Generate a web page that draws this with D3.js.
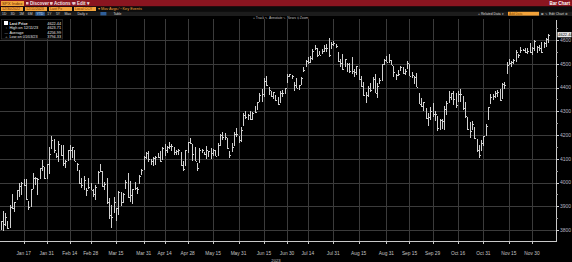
<!DOCTYPE html>
<html><head><meta charset="utf-8">
<script src="https://cdn.jsdelivr.net/npm/d3@7"></script>
<style>
body{margin:0;background:#000;overflow:hidden}
svg{display:block;font-family:"Liberation Sans",Arial,sans-serif}
</style>
</head><body>
<svg id="c" width="572" height="262"></svg>
<script>
// ---------- DATA ----------
const ticker = "SPX Index";
const startDate = "2022-12-30";
const endDate = "2023-12-11";
const holidays = ["2023-01-02","2023-01-16","2023-02-20","2023-04-07","2023-05-29","2023-06-19","2023-07-04","2023-09-04","2023-11-23"];

const open = [3829.06,
3853.29,3840.36,3839.74,3823.37,3910.82,3888.57,3932.35,3977.57,3960.60,3999.28,4002.25,3911.84,3909.04,3978.14,4001.74,3982.71,4036.08,4053.72,4049.27,4020.85,
4070.07,4158.68,4136.69,4119.57,4105.35,4153.47,4144.25,4068.92,4096.62,4126.70,4119.50,4114.75,4077.39,4052.35,4001.83,4018.60,3973.24,3992.36,3977.19,
3963.34,3938.68,3998.02,4055.15,4048.26,3987.55,3998.66,3912.77,3835.12,3894.01,3876.74,3878.93,3958.69,3917.47,3975.89,4002.04,3959.21,3939.21,3982.93,3974.13,3999.53,4046.74,4056.18,
4102.20,4128.03,4094.50,4081.15,4085.20,4110.29,4121.72,4100.04,4140.11,4137.17,4164.26,4139.33,4130.48,4132.14,4132.07,4126.43,4087.78,4075.29,4129.63,
4166.79,4164.10,4122.25,4082.61,4084.73,4136.98,4124.25,4143.74,4132.24,4138.54,4126.65,4127.95,4122.85,4157.68,4204.15,4190.78,4176.80,4132.96,4155.71,4156.16,4226.71,4190.74,
4183.03,4241.01,4282.99,4271.34,4285.47,4268.69,4304.88,4308.32,4352.61,4366.29,4365.33,4440.95,4396.11,4380.01,4355.40,4354.17,4344.84,4337.36,4367.48,4374.94,4422.44,
4450.48,4442.04,4422.62,4404.54,4394.23,4415.55,4467.69,4491.50,4514.61,4508.86,4521.78,4563.87,4554.38,4550.16,4543.39,4555.19,4558.96,4598.26,4565.75,4584.82,
4578.83,4550.93,4494.27,4513.96,4491.58,4498.03,4501.57,4487.16,4450.69,4458.13,4478.87,4433.79,4416.32,4344.88,4380.28,4415.33,4396.44,4455.16,4389.38,4426.03,4432.75,4500.34,4517.01,
4530.60,4510.06,4490.35,4434.55,4451.30,4480.98,4473.27,4462.65,4487.78,4497.98,4445.13,4445.41,4452.81,4374.36,4341.74,4310.62,4312.88,4282.63,4269.65,4328.18,
4284.52,4269.75,4233.83,4259.31,4234.79,4289.02,4339.75,4366.59,4380.94,4360.49,4342.37,4345.23,4357.35,4321.36,4273.85,4210.40,4235.79,4232.42,4175.99,4152.93,4139.39,4171.33,
4201.27,4268.26,4334.23,4364.27,4366.21,4384.37,4391.41,4364.15,4406.66,4458.97,4505.30,4497.08,4509.55,4511.70,4538.77,4553.04,4555.84,4554.86,4545.55,4571.84,4554.87,
4559.43,4564.37,4557.25,4586.23,4568.84,4576.20,4593.39];

const high = [3839.85,
3878.46,3873.16,3839.74,3906.19,3950.57,3919.83,3970.07,3997.76,4003.95,4015.39,4014.16,3922.94,3972.96,4039.31,4023.92,4019.55,4061.57,4094.21,4063.85,4077.16,
4148.95,4195.44,4182.36,4124.63,4176.54,4156.85,4156.23,4094.36,4138.90,4159.77,4148.11,4136.54,4081.51,4052.35,4017.37,4028.30,3978.25,4018.05,3997.50,
3971.73,3990.84,4048.29,4078.49,4050.00,4000.41,4017.81,3934.05,3905.05,3937.29,3894.26,3964.46,3958.91,3956.62,4009.08,4039.49,4007.66,3972.74,4003.83,3979.20,4030.59,4057.85,4110.75,
4127.66,4133.13,4099.69,4107.32,4109.50,4124.26,4134.37,4150.26,4163.19,4151.72,4169.48,4162.57,4148.57,4138.02,4142.41,4126.43,4089.67,4138.24,4170.06,
4186.92,4164.10,4148.30,4082.61,4147.02,4142.30,4130.35,4154.28,4132.80,4143.74,4141.25,4135.54,4164.67,4202.20,4212.91,4209.22,4185.68,4132.96,4165.74,4212.87,4231.10,4195.44,
4232.43,4290.67,4299.28,4288.33,4299.19,4298.01,4322.62,4340.13,4375.37,4391.82,4439.20,4448.47,4400.15,4386.22,4382.25,4366.55,4362.06,4384.42,4390.35,4398.39,4458.48,
4456.46,4454.06,4422.62,4440.39,4412.60,4443.64,4488.34,4517.38,4527.76,4532.85,4562.30,4578.43,4564.74,4555.00,4563.41,4580.62,4582.47,4607.07,4590.16,4594.22,
4584.62,4550.93,4519.49,4540.34,4519.84,4503.31,4502.44,4527.37,4476.23,4490.33,4478.87,4449.95,4421.17,4381.82,4407.55,4418.59,4443.18,4458.30,4418.46,4439.56,4500.14,4521.65,4532.26,
4541.25,4514.29,4490.35,4457.81,4473.53,4490.77,4487.11,4479.39,4511.99,4497.98,4466.36,4449.85,4461.03,4375.70,4357.40,4338.51,4313.01,4292.07,4317.27,4333.15,
4300.58,4281.15,4268.50,4267.13,4324.10,4341.73,4385.46,4378.64,4385.85,4377.10,4383.33,4393.57,4364.20,4339.54,4276.56,4255.84,4259.38,4232.42,4183.60,4156.70,4177.47,4195.55,
4245.64,4319.72,4373.62,4372.21,4386.26,4391.20,4393.40,4418.03,4421.76,4508.67,4521.17,4511.99,4520.12,4557.11,4542.14,4568.43,4560.31,4564.37,4568.14,4587.64,4569.89,
4599.39,4574.06,4578.56,4590.74,4590.92,4609.23,4623.71];

const low = [3800.34,
3794.33,3815.77,3802.42,3809.56,3890.42,3877.29,3928.54,3937.56,3947.67,3984.57,3926.59,3885.54,3897.86,3971.64,3989.79,3949.06,4013.29,4048.70,4015.55,4020.44,
4037.20,4141.88,4123.36,4103.98,4088.39,4111.67,4069.67,4060.79,4092.67,4095.01,4103.98,4089.50,4047.95,3995.19,3976.90,3969.19,3943.08,3973.55,3968.98,
3939.05,3928.16,3995.17,4044.61,3980.31,3969.76,3908.70,3846.32,3808.86,3873.63,3838.24,3864.11,3901.27,3916.89,3971.19,3936.17,3919.05,3909.16,3970.47,3951.53,3999.53,4032.10,4056.18,
4098.79,4086.87,4072.56,4069.84,4072.55,4102.61,4086.94,4099.40,4113.20,4123.18,4140.36,4134.49,4114.57,4113.86,4117.77,4071.38,4049.35,4075.29,4127.18,
4164.12,4089.72,4088.86,4048.28,4084.73,4123.81,4116.65,4098.92,4109.29,4099.12,4110.27,4109.86,4113.62,4153.50,4180.20,4179.68,4142.54,4103.98,4129.73,4156.16,4192.18,4166.15,
4171.64,4241.01,4266.82,4263.09,4263.96,4261.07,4291.70,4304.37,4337.66,4337.85,4362.60,4407.44,4367.19,4360.14,4351.82,4341.34,4328.08,4335.00,4360.22,4371.97,4422.44,
4442.29,4436.61,4385.05,4397.40,4389.92,4408.46,4463.23,4489.36,4499.56,4504.90,4514.59,4557.48,4527.56,4535.79,4541.29,4552.42,4547.58,4528.56,4564.01,4573.14,
4567.53,4505.75,4485.54,4474.55,4491.15,4464.39,4461.33,4457.92,4443.98,4453.44,4432.19,4403.55,4364.83,4335.31,4360.30,4382.77,4396.44,4375.55,4356.29,4414.98,4431.68,4493.59,4507.39,
4501.35,4496.01,4442.38,4430.46,4448.38,4467.89,4456.83,4453.52,4478.69,4447.21,4442.11,4416.61,4401.38,4329.17,4316.49,4302.70,4265.98,4238.63,4264.38,4274.86,
4260.21,4216.45,4220.48,4225.91,4219.55,4283.79,4339.64,4345.34,4325.43,4311.97,4342.37,4337.54,4303.84,4269.69,4223.03,4189.22,4219.43,4181.42,4127.90,4103.78,4132.94,4153.12,
4197.74,4268.26,4334.23,4347.53,4355.41,4359.76,4343.94,4353.34,4393.82,4458.97,4495.31,4487.83,4499.66,4510.36,4525.51,4545.05,4552.80,4545.28,4540.51,4547.15,4537.24,
4554.71,4546.72,4551.68,4546.50,4565.22,4574.06,4593.39];

const close = [3839.50,
3824.14,3852.97,3808.10,3895.08,3892.09,3919.25,3969.61,3983.17,3999.09,3990.97,3928.86,3898.85,3972.61,4019.81,4016.95,4016.22,4060.43,4070.56,4017.77,4076.60,
4119.21,4179.76,4136.48,4111.08,4164.00,4117.86,4081.50,4090.46,4137.29,4136.13,4147.60,4090.41,4079.09,3997.34,3991.05,4012.32,3970.04,3982.24,3970.15,
3951.39,3981.35,4045.64,4048.42,3986.37,3992.01,3918.32,3861.59,3855.76,3919.29,3891.93,3960.28,3916.64,3951.57,4002.87,3936.97,3948.72,3970.99,3977.53,3971.27,4027.81,4050.83,4109.31,
4124.51,4100.60,4090.38,4105.02,4109.11,4108.94,4091.95,4146.22,4137.64,4151.32,4154.87,4154.52,4129.79,4133.52,4137.04,4071.63,4055.99,4135.35,4169.48,
4167.87,4119.58,4090.75,4061.22,4136.25,4138.12,4119.17,4137.64,4130.62,4124.08,4136.28,4109.90,4158.77,4198.05,4191.98,4192.63,4145.58,4115.24,4151.28,4205.45,4205.52,4179.83,
4221.02,4282.37,4273.79,4283.85,4267.52,4293.93,4298.86,4338.93,4369.01,4372.59,4425.84,4409.59,4388.71,4365.69,4381.89,4348.33,4328.82,4378.41,4376.86,4396.44,4450.38,
4455.59,4446.82,4411.59,4398.95,4409.53,4439.26,4472.16,4510.04,4505.42,4522.79,4554.98,4565.72,4534.87,4536.34,4554.64,4567.46,4566.75,4537.41,4582.23,4588.96,
4576.73,4513.39,4501.89,4478.03,4518.44,4499.38,4467.71,4468.83,4464.05,4489.72,4437.86,4404.33,4370.36,4369.71,4399.77,4387.55,4436.01,4376.31,4405.71,4433.31,4497.63,4514.87,4507.66,
4515.77,4496.83,4465.48,4451.14,4457.49,4487.46,4461.90,4467.44,4505.10,4450.32,4453.53,4443.95,4402.20,4330.00,4320.06,4337.44,4273.53,4274.51,4299.70,4288.05,
4288.39,4229.45,4263.75,4258.19,4308.50,4335.66,4358.24,4376.95,4349.61,4327.78,4373.63,4373.20,4314.60,4278.00,4224.16,4217.04,4247.68,4186.77,4137.23,4117.37,4166.82,4193.80,
4237.86,4317.78,4358.34,4365.98,4378.38,4382.78,4347.35,4415.24,4411.55,4495.70,4502.88,4508.24,4514.02,4547.38,4538.19,4556.62,4559.34,4550.43,4554.89,4550.58,4567.80,
4594.63,4569.78,4567.18,4549.34,4585.59,4604.37,4622.44];

const xTickDates = ["2023-01-17","2023-01-31","2023-02-14","2023-02-28","2023-03-15","2023-03-31","2023-04-14","2023-04-28","2023-05-15","2023-05-31","2023-06-15","2023-06-30","2023-07-14","2023-07-31","2023-08-15","2023-08-31","2023-09-15","2023-09-29","2023-10-16","2023-10-31","2023-11-15","2023-11-30"];
const xTickLabels = ["Jan 17","Jan 31","Feb 14","Feb 28","Mar 15","Mar 31","Apr 14","Apr 28","May 15","May 31","Jun 15","Jun 30","Jul 14","Jul 31","Aug 15","Aug 31","Sep 15","Sep 29","Oct 16","Oct 31","Nov 15","Nov 30"];
const yearLabel = "2023";
const yTicks = [3800,3900,4000,4100,4200,4300,4400,4500,4600];
const periodButtons = ["1D","3D","1M","6M","YTD","1Y","5Y","Max"];

// ---------- BUILD ----------
const fmtISO = d3.timeFormat("%Y-%m-%d");
const parse = d3.timeParse("%Y-%m-%d");
const hol = new Set(holidays);
const dates = d3.timeDay.range(parse(startDate), d3.timeDay.offset(parse(endDate),1))
  .filter(d => d.getDay()!==0 && d.getDay()!==6 && !hol.has(fmtISO(d)));
const n = Math.min(dates.length, close.length);
const data = d3.range(n).map(i => ({i, date:dates[i], o:open[i], h:high[i], l:low[i], c:close[i]}));
const idxOf = new Map(dates.map((d,i)=>[fmtISO(d), i]));

const svg = d3.select("#c");
const W = 572, H = 262;
const plotL = 0, plotR = 556, plotT = 19, plotB = 241;

const x = d3.scaleLinear().domain([0, 240.4]).range([0.5, plotR]);
const y = d3.scaleLinear().domain([3800, 4600]).range([230, 40]);

svg.append("rect").attr("width",W).attr("height",H).attr("fill","#000");

// grid
const grid = svg.append("g").attr("shape-rendering","crispEdges");
grid.selectAll(".vg").data(xTickDates).join("line")
  .attr("x1",d=>Math.round(x(idxOf.get(d)))+0.5).attr("x2",d=>Math.round(x(idxOf.get(d)))+0.5)
  .attr("y1",plotT).attr("y2",plotB).attr("stroke","#3b3b3b");
grid.selectAll(".hg").data(yTicks).join("line")
  .attr("x1",plotL).attr("x2",plotR).attr("y1",d=>Math.round(y(d))+0.5).attr("y2",d=>Math.round(y(d))+0.5)
  .attr("stroke","#3b3b3b");

// OHLC bars
const bars = svg.append("g").attr("stroke","#d0d0d0").attr("stroke-width",1).attr("shape-rendering","crispEdges");
bars.selectAll("g").data(data).join("g").each(function(d){
  const g = d3.select(this);
  const cx = Math.round(x(d.i))+0.5;
  g.append("line").attr("x1",cx).attr("x2",cx).attr("y1",y(d.h)).attr("y2",y(d.l));
  g.append("line").attr("x1",cx-1).attr("x2",cx).attr("y1",Math.round(y(d.o))+0.5).attr("y2",Math.round(y(d.o))+0.5);
  g.append("line").attr("x1",cx).attr("x2",cx+1).attr("y1",Math.round(y(d.c))+0.5).attr("y2",Math.round(y(d.c))+0.5);
});

// bottom axis
const ax = svg.append("g").attr("shape-rendering","crispEdges");
ax.append("line").attr("x1",0).attr("x2",plotR).attr("y1",plotB+0.5).attr("y2",plotB+0.5).attr("stroke","#c8c8c8");
ax.selectAll(".xt").data(xTickDates).join("line")
  .attr("x1",d=>Math.round(x(idxOf.get(d)))+0.5).attr("x2",d=>Math.round(x(idxOf.get(d)))+0.5)
  .attr("y1",plotB+1).attr("y2",plotB+3).attr("stroke","#c8c8c8");
svg.append("g").selectAll("text").data(xTickDates).join("text")
  .attr("x",d=>x(idxOf.get(d))).attr("y",plotB+14)
  .attr("text-anchor","middle").attr("fill","#c4c4c4").attr("font-size",4.8)
  .text((d,k)=>xTickLabels[k]);
svg.append("text").attr("x",276).attr("y",261.5).attr("text-anchor","middle")
  .attr("fill","#c4c4c4").attr("font-size",4.2).text(yearLabel);

// right axis
const ra = svg.append("g").attr("shape-rendering","crispEdges");
ra.append("line").attr("x1",plotR+0.5).attr("x2",plotR+0.5).attr("y1",20).attr("y2",plotB+1).attr("stroke","#c8c8c8");
ra.selectAll(".yt").data(yTicks).join("line")
  .attr("x1",plotR).attr("x2",plotR+3).attr("y1",d=>Math.round(y(d))+0.5).attr("y2",d=>Math.round(y(d))+0.5).attr("stroke","#d0d0d0");
const minor = d3.range(3750, 4700, 100).filter(v=>y(v)>plotT && y(v)<plotB);
ra.selectAll(".ym").data(minor).join("line")
  .attr("x1",plotR).attr("x2",plotR+2).attr("y1",d=>Math.round(y(d))+0.5).attr("y2",d=>Math.round(y(d))+0.5).attr("stroke","#a0a0a0");
svg.append("g").selectAll("text").data(yTicks).join("text")
  .attr("x",plotR+4).attr("y",d=>y(d)+1.8).attr("fill","#b8b8c4").attr("font-size",5).text(d=>d);

// last price label
const last = data[n-1];
const fmt2 = d3.format(".2f");
const ly = y(last.c);
svg.append("rect").attr("x",plotR+1.5).attr("y",ly-2.6).attr("width",14).attr("height",5.2).attr("fill","#e8e8e8");
svg.append("text").attr("x",plotR+2.2).attr("y",ly+1.6).attr("fill","#000").attr("font-size",4).text(fmt2(last.c));

// ---------- LEGEND ----------
const hiD = data.reduce((a,b)=>b.h>a.h?b:a);
const loD = data.reduce((a,b)=>b.l<a.l?b:a);
const avg = d3.mean(data, d=>d.c);
const fmtD = d3.timeFormat("%m/%d/%y");
const lg = svg.append("g");
lg.append("rect").attr("x",1.5).attr("y",19.5).attr("width",61).attr("height",19.5).attr("fill","#000").attr("stroke","#3a3a3a").attr("stroke-width",0.6);
lg.append("rect").attr("x",4).attr("y",21).attr("width",4).attr("height",4).attr("fill","#fff");
const legRows = [
  {t:"Last Price", v:fmt2(last.c), y:24.5, b:true},
  {t:"High on "+fmtD(hiD.date), v:fmt2(hiD.h), y:29},
  {t:"Average", v:fmt2(avg), y:33.5},
  {t:"Low on "+fmtD(loD.date), v:fmt2(loD.l), y:38}
];
lg.selectAll(".lt").data(legRows).join("text").attr("x",9.5).attr("y",d=>d.y)
  .attr("fill","#e6e6e6").attr("font-size",3.8).attr("font-weight",d=>d.b?"bold":"normal").text(d=>d.t);
lg.selectAll(".lv").data(legRows).join("text").attr("x",61).attr("y",d=>d.y).attr("text-anchor","end")
  .attr("fill","#e6e6e6").attr("font-size",3.8).text(d=>d.v);
[null,"⊤","—","⊥"].forEach((s,k)=>{ if(s) lg.append("text").attr("x",4.5).attr("y",legRows[k].y).attr("fill","#bbb").attr("font-size",3.4).text(s); });

// ---------- HEADER ----------
const hd = svg.append("g");
hd.append("rect").attr("x",0).attr("y",0).attr("width",W).attr("height",6.5).attr("fill","#8a1520");
hd.append("rect").attr("x",1).attr("y",1).attr("width",23).attr("height",5).attr("fill","#f3a33a");
hd.append("text").attr("x",2).attr("y",5).attr("font-size",4.3).attr("fill","#6b2b00").text(ticker);
[["Discover",30],["Actions",54],["Edit",77]].forEach(([t,xx])=>{
  hd.append("rect").attr("x",xx-4).attr("y",2).attr("width",2.5).attr("height",2.5).attr("fill","#e7c6c6");
  hd.append("text").attr("x",xx).attr("y",5).attr("font-size",4.5).attr("font-weight","bold").attr("fill","#f2e4e4").text(t+" ▾");
});
hd.append("text").attr("x",570).attr("y",5).attr("text-anchor","end").attr("font-size",4.5).attr("font-weight","bold").attr("fill","#fff").text("Bar Chart");

// row 2
hd.append("rect").attr("x",0).attr("y",6.5).attr("width",W).attr("height",4.8).attr("fill","#0c0c0c");
[["12/30/2022",1,22],["12/11/2023",25,22],["Last Px",49,23],["Local CCY",74,22]].forEach(([t,xx,w])=>{
  hd.append("rect").attr("x",xx).attr("y",7).attr("width",w).attr("height",4).attr("fill","#f3a33a");
  hd.append("text").attr("x",xx+1).attr("y",10.4).attr("font-size",3.6).attr("fill","#6b2b00").text(t);
});
hd.append("text").attr("x",98).attr("y",10.4).attr("font-size",3.8).attr("fill","#f3a33a").text("▾  Mov Avgs ⁄   ▫ Key Events");

// row 3
hd.append("rect").attr("x",0).attr("y",11.5).attr("width",W).attr("height",4.5).attr("fill","#1c1c1c");
let bx = 2;
periodButtons.forEach(t=>{
  const w = t.length*2.3+2.5;
  if(t==="YTD") hd.append("rect").attr("x",bx-1).attr("y",11.8).attr("width",w).attr("height",3.9).attr("fill","#2f5f9a");
  hd.append("text").attr("x",bx).attr("y",15).attr("font-size",3.4).attr("fill","#d8d8d8").text(t);
  bx += w+1.5;
});
hd.append("text").attr("x",bx+2).attr("y",15).attr("font-size",3.4).attr("fill","#d8d8d8").text("Daily ▾");
hd.append("rect").attr("x",bx+25).attr("y",12).attr("width",6).attr("height",3.4).attr("fill","#2f5f9a");
hd.append("text").attr("x",bx+38).attr("y",15).attr("font-size",3.4).attr("fill","#d8d8d8").text("Table");
hd.append("text").attr("x",478).attr("y",15).attr("font-size",3.4).attr("fill","#d8d8d8").text("+ Related Data ▾");
hd.append("rect").attr("x",508).attr("y",11.8).attr("width",31).attr("height",3.8).attr("fill","#f3a33a");
hd.append("text").attr("x",509).attr("y",14.9).attr("font-size",3.2).attr("fill","#8a4a00").text("Add Data");
hd.append("text").attr("x",541).attr("y",15).attr("font-size",3.4).attr("fill","#d8d8d8").text("⊠ ✎ Edit Chart ⚙");

// row 4 tools
hd.append("text").attr("x",253).attr("y",19.3).attr("font-size",3.4).attr("fill","#bdbdbd").text("+ Track   ↖ Annotate   ✎ News   ⚲ Zoom");
</script>
</body></html>
